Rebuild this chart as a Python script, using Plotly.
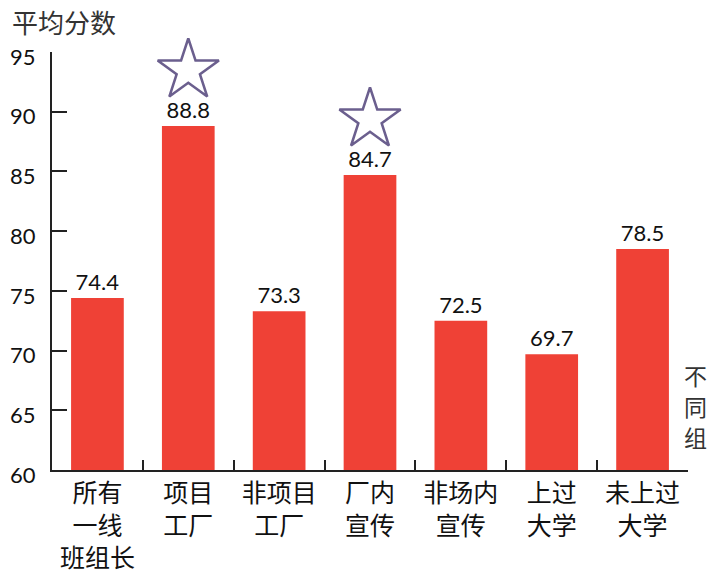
import plotly.graph_objects as go

# Groups and their average scores
categories = ["所有<br>一线<br>班组长", "项目<br>工厂", "非项目<br>工厂", "厂内<br>宣传",
              "非场内<br>宣传", "上过<br>大学", "未上过<br>大学"]
scores = [74.4, 88.8, 73.3, 84.7, 72.5, 69.7, 78.5]
starred = [False, True, False, True, False, False, False]

y_ticks = [60, 65, 70, 75, 80, 85, 90, 95]
x_title_chars = ["不", "同", "组"]

W, H = 721, 575
ML, MR, MT, MB = 52, 33, 52, 105
PW, PH = W - ML - MR, H - MT - MB
y_min, y_max = 60, 95

num_font = "Lato, Inter, sans-serif"
cjk_font = "Noto Sans CJK SC, sans-serif"

fig = go.Figure()

fig.add_trace(go.Bar(
    x=categories,
    y=[s - y_min for s in scores],
    base=y_min,
    marker=dict(color="#EF4136", line=dict(width=0)),
    text=[f"{s:.1f}" for s in scores],
    textposition="outside",
    textfont=dict(family=num_font, size=22, color="#111111"),
    cliponaxis=False,
    width=0.58,
    hoverinfo="skip",
))

# Highlight stars above selected bars (offset in axis units above the bar top)
star_offset = 4.65
star_x = [c for c, f in zip(categories, starred) if f]
star_y = [s + star_offset for s, f in zip(scores, starred) if f]
fig.add_trace(go.Scatter(
    x=star_x, y=star_y, mode="markers",
    marker=dict(symbol="star-open", size=46, color="#6B5F8E",
                line=dict(width=2.6, color="#6B5F8E")),
    cliponaxis=False, hoverinfo="skip",
))

annotations = [
    dict(text="平均分数", xref="paper", yref="paper",
         x=(10 - ML) / PW, xanchor="left",
         y=1 + (MT - 21) / PH, yanchor="middle",
         showarrow=False, font=dict(family=cjk_font, size=26, color="#333333")),
]
# Vertical axis title on the right, one character per row
for i, ch in enumerate(x_title_chars):
    annotations.append(dict(
        text=ch, xref="paper", yref="paper",
        x=1 + 7 / PW, xanchor="center",
        y=(H - MB - (375 + 31 * i)) / PH, yanchor="middle",
        borderpad=0,
        showarrow=False, font=dict(family=cjk_font, size=23, color="#333333"),
    ))

fig.update_layout(
    width=W, height=H,
    margin=dict(l=ML, r=MR, t=MT, b=MB, autoexpand=False),
    plot_bgcolor="white", paper_bgcolor="white",
    showlegend=False,
    bargap=0.42,
    xaxis=dict(
        type="category", automargin=False,
        showline=True, linecolor="#222222", linewidth=2,
        ticks="inside", tickson="boundaries", ticklen=10, tickwidth=1.5, tickcolor="#222222",
        tickfont=dict(family=cjk_font, size=25, color="#111111"),
        showgrid=False, zeroline=False,
    ),
    yaxis=dict(
        range=[y_min, y_max], automargin=False,
        tickvals=y_ticks,
        showline=True, linecolor="#222222", linewidth=2,
        ticks="inside", ticklen=15, tickwidth=1.5, tickcolor="#222222",
        tickfont=dict(family=num_font, size=22, color="#111111"),
        ticklabelstandoff=10, ticklabelshift=5,
        showgrid=False, zeroline=False,
    ),
    annotations=annotations,
)

fig.write_html("out.html")
